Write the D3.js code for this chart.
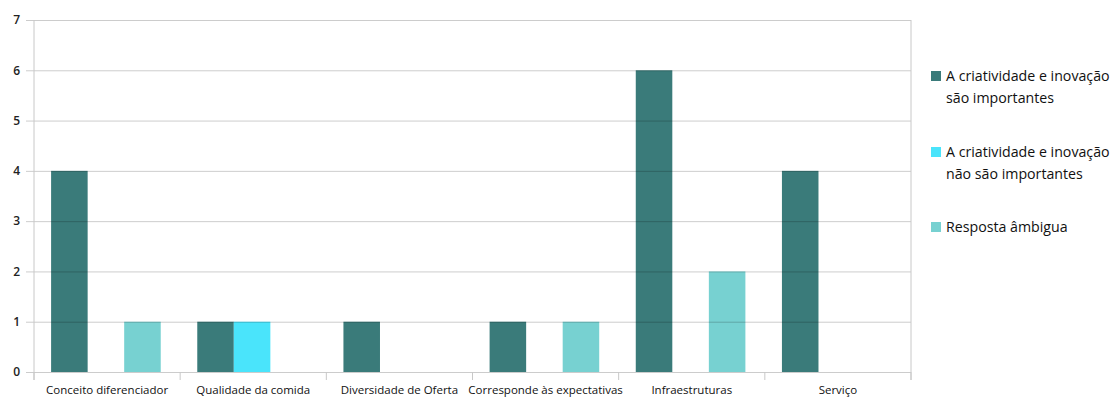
<!DOCTYPE html>
<html>
<head>
<meta charset="utf-8">
<script src="https://cdn.jsdelivr.net/npm/d3@7"></script>
<style>
  body { margin: 0; background: #fff; }
  svg text { font-family: "Open Sans", "Noto Sans", sans-serif; }
</style>
</head>
<body>
<svg id="chart"></svg>
<script>
const categories = ["Conceito diferenciador", "Qualidade da comida", "Diversidade de Oferta",
  "Corresponde às expectativas", "Infraestruturas", "Serviço"];
const seriesNames = ["A criatividade e inovação são importantes",
  "A criatividade e inovação não são importantes", "Resposta âmbigua"];
const legendLines = [["A criatividade e inovação", "são importantes"],
  ["A criatividade e inovação", "não são importantes"], ["Resposta âmbigua"]];
const importantes = [4, 1, 1, 1, 6, 4];
const naoImportantes = [0, 1, 0, 0, 0, 0];
const ambigua = [1, 0, 0, 1, 2, 0];
const yTicks = [0, 1, 2, 3, 4, 5, 6, 7];

const colors = ["#3a7b7a", "#4ae4fb", "#77d1d1"];
const series = [importantes, naoImportantes, ambigua];

const width = 1117, height = 399;
const mLeft = 34, mRight = 911, mTop = 20, mBottom = 372;

const svg = d3.select("#chart").attr("width", width).attr("height", height);

const x0 = d3.scaleBand().domain(categories).range([mLeft, mRight]).padding(0);
const bw = x0.bandwidth();
const x1 = d3.scaleBand().domain(d3.range(3)).range([bw * 0.117, bw * 0.867]).padding(0);
const y = d3.scaleLinear().domain([0, 7]).range([mBottom, mTop]);

// bars
const rows = categories.map((c, i) => ({cat: c, vals: series.map(s => s[i])}));
svg.append("g")
  .selectAll("g")
  .data(rows)
  .join("g")
  .attr("transform", d => `translate(${x0(d.cat)},0)`)
  .selectAll("rect")
  .data(d => d.vals.map((v, k) => ({k, v})))
  .join("rect")
  .attr("x", d => x1(d.k))
  .attr("width", x1.bandwidth())
  .attr("y", d => y(d.v))
  .attr("height", d => y(0) - y(d.v))
  .attr("fill", d => colors[d.k]);

// gridlines drawn over bars
const yAxis = d3.axisLeft(y).tickValues(yTicks).tickFormat(d3.format("d"))
  .tickSize(-(mRight - mLeft + 8));
const gy = svg.append("g").attr("transform", `translate(${mLeft - 8},0)`).call(yAxis);
gy.select(".domain").remove();
gy.selectAll(".tick line").attr("stroke", "#000").attr("stroke-opacity", 0.2);
gy.selectAll(".tick text")
  .attr("x", -6)
  .attr("fill", "#222")
  .style("font-size", "12px")
  .style("font-weight", "600");

// left axis and right border
svg.append("line").attr("x1", mLeft).attr("x2", mLeft).attr("y1", mTop).attr("y2", mBottom + 8)
  .attr("stroke", "#c8c8c8");
svg.append("line").attr("x1", mRight).attr("x2", mRight).attr("y1", mTop).attr("y2", mBottom + 8)
  .attr("stroke", "#c8c8c8");

// x axis ticks at category boundaries
const bounds = categories.map(c => x0(c)).concat([mRight]);
svg.append("g").selectAll("line")
  .data(bounds)
  .join("line")
  .attr("x1", d => d).attr("x2", d => d)
  .attr("y1", mBottom).attr("y2", mBottom + 8)
  .attr("stroke", "#c8c8c8");

svg.append("g").selectAll("text")
  .data(categories)
  .join("text")
  .attr("x", d => x0(d) + bw / 2)
  .attr("y", 394)
  .attr("text-anchor", "middle")
  .attr("fill", "#111")
  .style("font-size", "11.5px")
  .text(d => d);

// legend
const legendY = [76, 152, 227];
const legend = svg.append("g")
  .selectAll("g")
  .data(seriesNames)
  .join("g")
  .attr("transform", (d, i) => `translate(931,${legendY[i]})`);
legend.append("rect")
  .attr("x", 0).attr("y", -5).attr("width", 10).attr("height", 10)
  .attr("fill", (d, i) => colors[i]);
legend.append("text")
  .attr("fill", "#111")
  .style("font-size", "14.2px")
  .selectAll("tspan")
  .data((d, i) => legendLines[i])
  .join("tspan")
  .attr("x", 15)
  .attr("y", (d, j) => 5 + j * 21.5)
  .text(d => d);
</script>
</body>
</html>
